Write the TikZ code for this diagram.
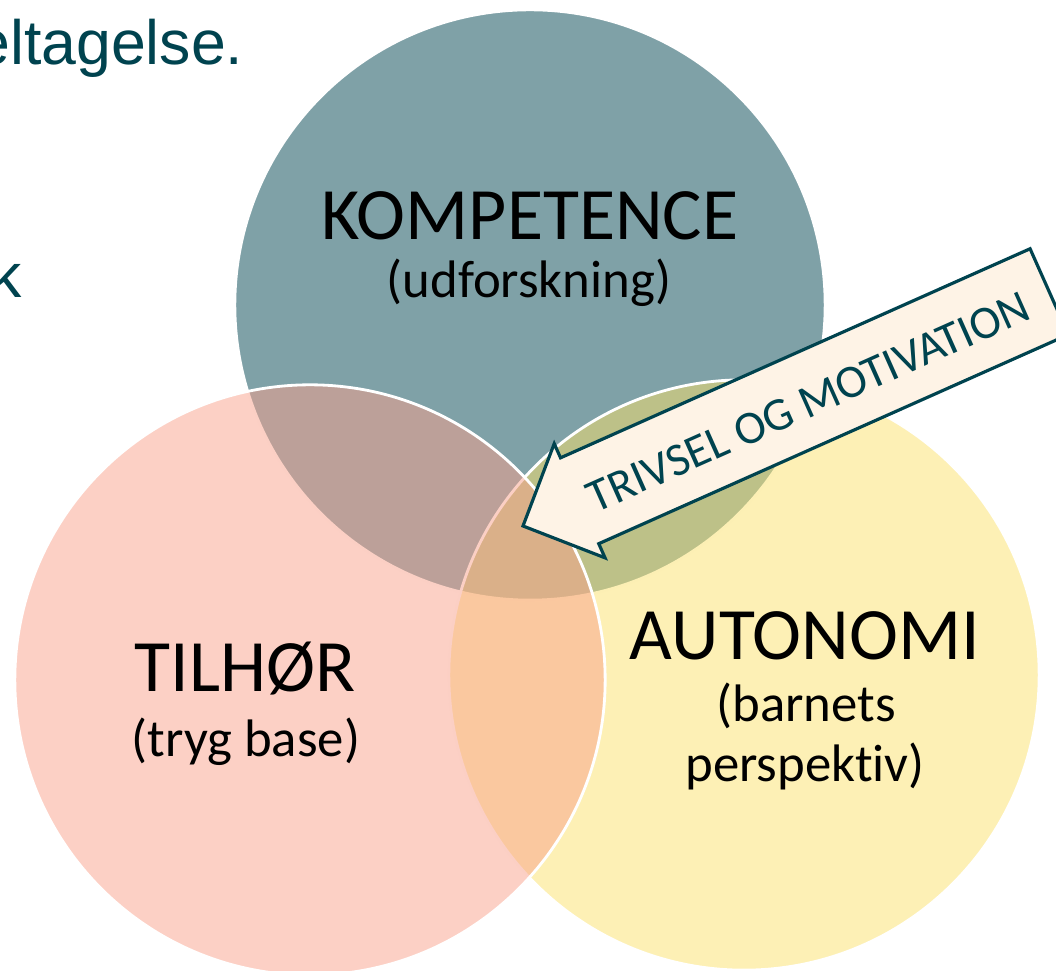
\documentclass[tikz,border=0pt]{standalone}
\usepackage{fontspec}
\setmainfont{Carlito}[Ligatures={NoCommon}]
\newfontfamily\arialfont{Liberation Sans}
\definecolor{kompcol}{RGB}{0,67,79}
\definecolor{tilhcol}{RGB}{249,161,139}
\definecolor{autocol}{RGB}{251,225,107}
\definecolor{arrowfill}{RGB}{254,243,230}
\definecolor{darkteal}{RGB}{0,67,79}

\begin{document}
\begin{tikzpicture}[x=0.01cm, y=-0.01cm,
    venn/.style={circle, minimum size=5.9cm, inner sep=0pt, draw=white,
      line width=0.8pt, fill opacity=0.5},
    venntitle/.style={anchor=base, inner sep=0pt, font=\fontsize{21}{25}\selectfont},
    vennsub/.style={anchor=base, inner sep=0pt, font=\fontsize{15}{18}\selectfont},
    slidetext/.style={anchor=base east, inner sep=0pt, text=darkteal,
      font=\arialfont\fontsize{17.8}{21}\selectfont},
    arrowbox/.style={draw=darkteal, fill=arrowfill, line width=0.9pt, line join=miter},
    arrowtext/.style={text=darkteal, inner sep=0pt, font=\fontsize{13.3}{16}\selectfont}]
  % Frame of the slide crop
  \useasboundingbox (0,0) rectangle (1056,971);
  \clip (0,0) rectangle (1056,971);

  % Leftover slide text
  \node[slidetext] (line1) at (244,65) {eltagelse.};
  \node[slidetext] (line2) at (22,298) {k};

  % The three circles
  \node[venn, fill=kompcol] (komp) at (530,305) {};
  \node[venn, fill=autocol] (auto) at (744,675) {};
  \node[venn, fill=tilhcol] (tilh) at (310,680) {};

  % Circle labels
  \node[venntitle] (kompname) at (530,240) {KOMPETENCE};
  \node[vennsub] (kompsub) at (529,298) {(udforskning)};
  \node[venntitle] (tilhname) at (245,692) {TILHØR};
  \node[vennsub] (tilhsub) at (246,757) {(tryg base)};
  \node[venntitle] (autoname) at (805,660) {AUTONOMI};
  \node[vennsub] (autosub1) at (806,722) {(barnets};
  \node[vennsub] (autosub2) at (805,782) {perspektiv)};

  % Block arrow pointing into the middle
  \begin{scope}[shift={(523,526)}, rotate=24]
    \def\hl{62}   % head length
    \def\hw{62.5} % half head width
    \def\sw{47}   % half shaft width
    \def\len{576} % tip to tail
    \draw[arrowbox] (0,0) -- (\hl,-\hw) -- (\hl,-\sw) -- (\len,-\sw)
      -- (\len,\sw) -- (\hl,\sw) -- (\hl,\hw) -- cycle;
    \node[arrowtext, rotate=24] (trivsel) at (311,3) {TRIVSEL OG MOTIVATION};
  \end{scope}
\end{tikzpicture}
\end{document}
